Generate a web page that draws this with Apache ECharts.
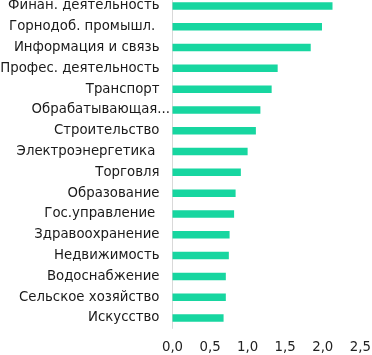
<!DOCTYPE html>
<html><head><meta charset="utf-8">
<script src="https://cdn.jsdelivr.net/npm/echarts@6/dist/echarts.min.js"></script>
<style>html,body{margin:0;padding:0;background:#fff}#c{width:372px;height:355px}</style>
</head><body><div id="c"></div>
<script>
const categories = ["Финан. деятельность","Горнодоб. промышл. ","Информация и связь","Профес. деятельность","Транспорт","Обрабатывающая...","Строительство","Электроэнергетика ","Торговля","Образование","Гос.управление ","Здравоохранение","Недвижимость","Водоснабжение","Сельское хозяйство","Искусство"];
const values = [2.13,1.99,1.84,1.40,1.32,1.17,1.11,1.00,0.91,0.84,0.82,0.76,0.75,0.71,0.71,0.68];
const xTicks = [0,0.5,1,1.5,2,2.5];
const catData = categories.map(c => c.endsWith('...') ? {value:c,textStyle:{padding:[0,-10.5,0,0]}} : c);
const chart = echarts.init(document.getElementById('c'), null, {renderer:'canvas'});
chart.setOption({
  animation:false,
  grid:{left:172.5,right:11.7,top:-4.5,height:332.9,containLabel:false,outerBoundsMode:'none'},
  xAxis:{type:'value',min:xTicks[0],max:xTicks[xTicks.length-1],interval:0.5,
    axisLine:{show:false},axisTick:{show:false},splitLine:{show:false},
    axisLabel:{margin:13,fontFamily:'DejaVu Sans',fontSize:13.3,color:'#222',formatter:v=>v.toFixed(1).replace('.',',')}},
  yAxis:{type:'category',inverse:true,data:catData,
    axisLine:{show:true,lineStyle:{color:'#d9d9d9',width:1}},axisTick:{show:false},
    axisLabel:{margin:13,fontFamily:'DejaVu Sans',fontSize:13.3,color:'#1a1a1a'}},
  series:[{type:'bar',data:values,barWidth:7.5,itemStyle:{color:'#17d6a0'}}]
});
</script></body></html>
